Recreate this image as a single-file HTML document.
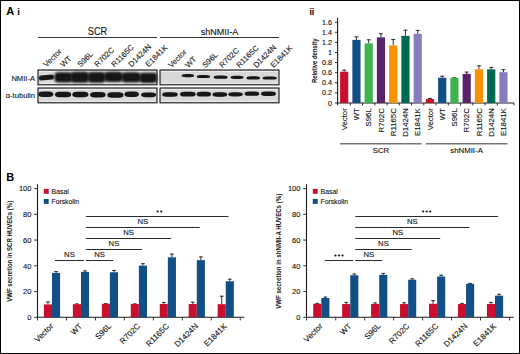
<!DOCTYPE html><html><head><meta charset="utf-8"><style>html,body{margin:0;padding:0;background:#fff;overflow:hidden}svg{display:block}</style></head><body>
<svg width="520" height="354" viewBox="0 0 520 354" font-family='"Liberation Sans", sans-serif'>
<defs><filter id="bl" x="-20%" y="-50%" width="140%" height="200%"><feGaussianBlur stdDeviation="0.9"/></filter><filter id="bl3" x="-20%" y="-80%" width="140%" height="260%"><feGaussianBlur stdDeviation="0.6"/></filter><filter id="bl2" x="-20%" y="-50%" width="140%" height="200%"><feGaussianBlur stdDeviation="0.95"/></filter></defs>
<rect x="0" y="0" width="520" height="354" fill="#fff"/>
<rect x="0.5" y="0.5" width="519" height="353" fill="none" stroke="#000" stroke-width="1"/>
<text x="6.2" y="14.8" font-size="11" text-anchor="start" font-weight="bold" fill="#000">A</text>
<text x="17.2" y="14.8" font-size="9.6" text-anchor="start" font-weight="bold" fill="#000">i</text>
<text x="97.5" y="34.8" font-size="10.3" text-anchor="middle" font-weight="normal" fill="#111" textLength="19.4" lengthAdjust="spacingAndGlyphs" stroke="#111" stroke-width="0.12">SCR</text>
<text x="219.5" y="34.8" font-size="9.0" text-anchor="middle" font-weight="normal" fill="#111" stroke="#111" stroke-width="0.12">shNMII-A</text>
<line x1="38" y1="37.5" x2="157" y2="37.5" stroke="#333" stroke-width="1.2"/>
<line x1="160" y1="37.5" x2="279" y2="37.5" stroke="#333" stroke-width="1.2"/>
<text x="46.5" y="67.6" font-size="7.8" text-anchor="start" font-weight="normal" fill="#1a1a1a" transform="rotate(-45 46.5 67.6)" stroke="#1a1a1a" stroke-width="0.12">Vector</text>
<text x="63.5" y="67.6" font-size="7.8" text-anchor="start" font-weight="normal" fill="#1a1a1a" transform="rotate(-45 63.5 67.6)" stroke="#1a1a1a" stroke-width="0.12">WT</text>
<text x="80.5" y="67.6" font-size="7.8" text-anchor="start" font-weight="normal" fill="#1a1a1a" transform="rotate(-45 80.5 67.6)" stroke="#1a1a1a" stroke-width="0.12">S96L</text>
<text x="97.5" y="67.6" font-size="7.8" text-anchor="start" font-weight="normal" fill="#1a1a1a" transform="rotate(-45 97.5 67.6)" stroke="#1a1a1a" stroke-width="0.12">R702C</text>
<text x="114.5" y="67.6" font-size="7.8" text-anchor="start" font-weight="normal" fill="#1a1a1a" transform="rotate(-45 114.5 67.6)" stroke="#1a1a1a" stroke-width="0.12">R1165C</text>
<text x="131.5" y="67.6" font-size="7.8" text-anchor="start" font-weight="normal" fill="#1a1a1a" transform="rotate(-45 131.5 67.6)" stroke="#1a1a1a" stroke-width="0.12">D1424N</text>
<text x="148.5" y="67.6" font-size="7.8" text-anchor="start" font-weight="normal" fill="#1a1a1a" transform="rotate(-45 148.5 67.6)" stroke="#1a1a1a" stroke-width="0.12">E1841K</text>
<text x="171.4" y="68.3" font-size="7.8" text-anchor="start" font-weight="normal" fill="#1a1a1a" transform="rotate(-45 171.4 68.3)" stroke="#1a1a1a" stroke-width="0.12">Vector</text>
<text x="188.4" y="68.3" font-size="7.8" text-anchor="start" font-weight="normal" fill="#1a1a1a" transform="rotate(-45 188.4 68.3)" stroke="#1a1a1a" stroke-width="0.12">WT</text>
<text x="205.4" y="68.3" font-size="7.8" text-anchor="start" font-weight="normal" fill="#1a1a1a" transform="rotate(-45 205.4 68.3)" stroke="#1a1a1a" stroke-width="0.12">S96L</text>
<text x="222.4" y="68.3" font-size="7.8" text-anchor="start" font-weight="normal" fill="#1a1a1a" transform="rotate(-45 222.4 68.3)" stroke="#1a1a1a" stroke-width="0.12">R702C</text>
<text x="239.4" y="68.3" font-size="7.8" text-anchor="start" font-weight="normal" fill="#1a1a1a" transform="rotate(-45 239.4 68.3)" stroke="#1a1a1a" stroke-width="0.12">R1165C</text>
<text x="256.4" y="68.3" font-size="7.8" text-anchor="start" font-weight="normal" fill="#1a1a1a" transform="rotate(-45 256.4 68.3)" stroke="#1a1a1a" stroke-width="0.12">D1424N</text>
<text x="273.4" y="68.3" font-size="7.8" text-anchor="start" font-weight="normal" fill="#1a1a1a" transform="rotate(-45 273.4 68.3)" stroke="#1a1a1a" stroke-width="0.12">E1841K</text>
<text x="35" y="80.5" font-size="7.6" text-anchor="end" font-weight="normal" fill="#111" stroke="#111" stroke-width="0.12">NMII-A</text>
<text x="35" y="98" font-size="7.6" text-anchor="end" font-weight="normal" fill="#111" stroke="#111" stroke-width="0.12">&#945;-tubulin</text>
<rect x="38" y="70" width="119" height="14.799999999999997" fill="#d8d8d8" stroke="#1e1e1e" stroke-width="1.15"/>
<rect x="39" y="71" width="117" height="1" fill="#eee"/>
<rect x="39" y="82.8" width="117" height="1" fill="#eee"/>
<rect x="38" y="88" width="119" height="14.799999999999997" fill="#d8d8d8" stroke="#1e1e1e" stroke-width="1.15"/>
<rect x="39" y="89" width="117" height="1" fill="#eee"/>
<rect x="39" y="100.8" width="117" height="1" fill="#eee"/>
<rect x="160" y="70" width="119" height="14.799999999999997" fill="#d8d8d8" stroke="#1e1e1e" stroke-width="1.15"/>
<rect x="161" y="71" width="117" height="1" fill="#eee"/>
<rect x="161" y="82.8" width="117" height="1" fill="#eee"/>
<rect x="160" y="88" width="119" height="14.799999999999997" fill="#d8d8d8" stroke="#1e1e1e" stroke-width="1.15"/>
<rect x="161" y="89" width="117" height="1" fill="#eee"/>
<rect x="161" y="100.8" width="117" height="1" fill="#eee"/>
<g transform="rotate(-5 46.5 77.4)">
<rect x="38.9" y="74.95" width="15.000000000000007" height="5.0" rx="3.0" ry="2.0" fill="#141414" filter="url(#bl3)"/>
</g>
<rect x="54.4" y="72.14999999999999" width="17.9" height="10.300000000000011" rx="4.0" ry="4.0" fill="#141414" filter="url(#bl2)"/>
<rect x="70.4" y="71.75" width="18.599999999999994" height="11.0" rx="4.0" ry="4.0" fill="#141414" filter="url(#bl2)"/>
<rect x="87.7" y="71.95" width="17.799999999999997" height="10.799999999999997" rx="4.0" ry="4.0" fill="#141414" filter="url(#bl2)"/>
<rect x="104.2" y="71.75" width="18.599999999999994" height="10.299999999999997" rx="4.0" ry="4.0" fill="#141414" filter="url(#bl2)"/>
<rect x="121.5" y="72.35" width="19.19999999999999" height="10.200000000000003" rx="4.0" ry="4.0" fill="#141414" filter="url(#bl2)"/>
<rect x="139.3" y="72.85" width="17.99999999999997" height="10.200000000000003" rx="4.0" ry="4.0" fill="#141414" filter="url(#bl2)"/>
<rect x="38.3" y="91.60000000000001" width="15.000000000000007" height="5.499999999999986" rx="4.5" ry="2.749999999999993" fill="#141414" filter="url(#bl3)"/>
<rect x="55.0" y="91.7" width="16.200000000000003" height="5.5" rx="4.5" ry="2.75" fill="#141414" filter="url(#bl3)"/>
<rect x="72.3" y="91.7" width="16.10000000000001" height="5.5" rx="4.5" ry="2.75" fill="#141414" filter="url(#bl3)"/>
<rect x="90.1" y="92.0" width="15.500000000000014" height="5.3999999999999915" rx="4.5" ry="2.6999999999999957" fill="#141414" filter="url(#bl3)"/>
<rect x="107.3" y="92.2" width="16.200000000000003" height="5.5" rx="4.5" ry="2.75" fill="#141414" filter="url(#bl3)"/>
<rect x="124.5" y="91.60000000000001" width="14.399999999999977" height="5.299999999999983" rx="4.5" ry="2.6499999999999915" fill="#141414" filter="url(#bl3)"/>
<rect x="141.10000000000002" y="92.4" width="14.999999999999972" height="4.8999999999999915" rx="4.5" ry="2.4499999999999957" fill="#141414" filter="url(#bl3)"/>
<rect x="181.60000000000002" y="73.99999999999999" width="12.499999999999943" height="3.200000000000017" rx="4" ry="1.6000000000000085" fill="#141414" filter="url(#bl3)"/>
<rect x="196.70000000000002" y="74.89999999999999" width="13.399999999999949" height="3.200000000000017" rx="4" ry="1.6000000000000085" fill="#141414" filter="url(#bl3)"/>
<rect x="213.60000000000002" y="75.6" width="13.999999999999943" height="3.200000000000017" rx="4" ry="1.6000000000000085" fill="#141414" filter="url(#bl3)"/>
<rect x="230.50000000000003" y="75.69999999999999" width="13.099999999999937" height="3.200000000000017" rx="4" ry="1.6000000000000085" fill="#141414" filter="url(#bl3)"/>
<rect x="246.50000000000003" y="76.3" width="13.499999999999972" height="3.200000000000017" rx="4" ry="1.6000000000000085" fill="#141414" filter="url(#bl3)"/>
<rect x="262.5" y="76.39999999999999" width="14.399999999999977" height="3.200000000000017" rx="4" ry="1.6000000000000085" fill="#141414" filter="url(#bl3)"/>
<rect x="162.20000000000002" y="92.25" width="15.499999999999972" height="4.5" rx="4.5" ry="2.25" fill="#141414" filter="url(#bl3)"/>
<rect x="180.10000000000002" y="91.85" width="15.499999999999972" height="4.6000000000000085" rx="4.5" ry="2.3000000000000043" fill="#141414" filter="url(#bl3)"/>
<rect x="196.70000000000002" y="91.85" width="14.299999999999983" height="4.700000000000003" rx="4.5" ry="2.3500000000000014" fill="#141414" filter="url(#bl3)"/>
<rect x="212.5" y="92.15" width="14.599999999999994" height="4.5" rx="4.5" ry="2.25" fill="#141414" filter="url(#bl3)"/>
<rect x="228.3" y="92.25" width="14.399999999999977" height="4.200000000000003" rx="4.5" ry="2.1000000000000014" fill="#141414" filter="url(#bl3)"/>
<rect x="244.60000000000002" y="91.45" width="14.699999999999989" height="4.3999999999999915" rx="4.5" ry="2.1999999999999957" fill="#141414" filter="url(#bl3)"/>
<rect x="261.0" y="91.55" width="14.899999999999977" height="4.5" rx="4.5" ry="2.25" fill="#141414" filter="url(#bl3)"/>
<text x="309.4" y="15.3" font-size="8.8" text-anchor="start" font-weight="bold" fill="#000">ii</text>
<line x1="337.6" y1="17.7" x2="337.6" y2="103.5" stroke="#1a1a1a" stroke-width="1.1"/>
<line x1="335" y1="103.0" x2="337.6" y2="103.0" stroke="#1a1a1a" stroke-width="0.9"/>
<text x="332" y="105.5" font-size="7.2" text-anchor="end" font-weight="normal" fill="#111" stroke="#111" stroke-width="0.12">0</text>
<line x1="335" y1="92.9" x2="337.6" y2="92.9" stroke="#1a1a1a" stroke-width="0.9"/>
<text x="332" y="95.4" font-size="7.2" text-anchor="end" font-weight="normal" fill="#111" stroke="#111" stroke-width="0.12">0.2</text>
<line x1="335" y1="82.8" x2="337.6" y2="82.8" stroke="#1a1a1a" stroke-width="0.9"/>
<text x="332" y="85.3" font-size="7.2" text-anchor="end" font-weight="normal" fill="#111" stroke="#111" stroke-width="0.12">0.4</text>
<line x1="335" y1="72.69999999999999" x2="337.6" y2="72.69999999999999" stroke="#1a1a1a" stroke-width="0.9"/>
<text x="332" y="75.19999999999999" font-size="7.2" text-anchor="end" font-weight="normal" fill="#111" stroke="#111" stroke-width="0.12">0.6</text>
<line x1="335" y1="62.599999999999994" x2="337.6" y2="62.599999999999994" stroke="#1a1a1a" stroke-width="0.9"/>
<text x="332" y="65.1" font-size="7.2" text-anchor="end" font-weight="normal" fill="#111" stroke="#111" stroke-width="0.12">0.8</text>
<line x1="335" y1="52.5" x2="337.6" y2="52.5" stroke="#1a1a1a" stroke-width="0.9"/>
<text x="332" y="55.0" font-size="7.2" text-anchor="end" font-weight="normal" fill="#111" stroke="#111" stroke-width="0.12">1</text>
<line x1="335" y1="42.39999999999999" x2="337.6" y2="42.39999999999999" stroke="#1a1a1a" stroke-width="0.9"/>
<text x="332" y="44.89999999999999" font-size="7.2" text-anchor="end" font-weight="normal" fill="#111" stroke="#111" stroke-width="0.12">1.2</text>
<line x1="335" y1="32.3" x2="337.6" y2="32.3" stroke="#1a1a1a" stroke-width="0.9"/>
<text x="332" y="34.8" font-size="7.2" text-anchor="end" font-weight="normal" fill="#111" stroke="#111" stroke-width="0.12">1.4</text>
<line x1="335" y1="22.19999999999999" x2="337.6" y2="22.19999999999999" stroke="#1a1a1a" stroke-width="0.9"/>
<text x="332" y="24.69999999999999" font-size="7.2" text-anchor="end" font-weight="normal" fill="#111" stroke="#111" stroke-width="0.12">1.6</text>
<text x="316.9" y="60.8" font-size="7.2" text-anchor="middle" font-weight="bold" fill="#111" transform="rotate(-90 316.9 60.8)" textLength="44.5" lengthAdjust="spacingAndGlyphs">Relative density</text>
<line x1="337.1" y1="103.0" x2="514" y2="103.0" stroke="#1a1a1a" stroke-width="1.1"/>
<line x1="344.20000000000005" y1="71.69" x2="344.20000000000005" y2="69.7" stroke="#1a1a1a" stroke-width="0.9"/>
<line x1="342.20000000000005" y1="70.10000000000001" x2="346.20000000000005" y2="70.10000000000001" stroke="#1a1a1a" stroke-width="0.9"/>
<rect x="340.1" y="71.69" width="8.2" height="31.310000000000002" fill="#c8102e"/>
<text x="346.80000000000007" y="108.2" font-size="7.8" text-anchor="end" font-weight="normal" fill="#111" transform="rotate(-90 346.80000000000007 108.2)" stroke="#111" stroke-width="0.12">Vector</text>
<line x1="356.45000000000005" y1="39.875" x2="356.45000000000005" y2="36.5" stroke="#1a1a1a" stroke-width="0.9"/>
<line x1="354.45000000000005" y1="36.9" x2="358.45000000000005" y2="36.9" stroke="#1a1a1a" stroke-width="0.9"/>
<rect x="352.35" y="39.875" width="8.2" height="63.125" fill="#134f87"/>
<text x="359.05000000000007" y="108.2" font-size="7.8" text-anchor="end" font-weight="normal" fill="#111" transform="rotate(-90 359.05000000000007 108.2)" stroke="#111" stroke-width="0.12">WT</text>
<line x1="368.70000000000005" y1="43.410000000000004" x2="368.70000000000005" y2="39.4" stroke="#1a1a1a" stroke-width="0.9"/>
<line x1="366.70000000000005" y1="39.8" x2="370.70000000000005" y2="39.8" stroke="#1a1a1a" stroke-width="0.9"/>
<rect x="364.6" y="43.410000000000004" width="8.2" height="59.589999999999996" fill="#3cb44b"/>
<text x="371.30000000000007" y="108.2" font-size="7.8" text-anchor="end" font-weight="normal" fill="#111" transform="rotate(-90 371.30000000000007 108.2)" stroke="#111" stroke-width="0.12">S96L</text>
<line x1="380.95000000000005" y1="37.349999999999994" x2="380.95000000000005" y2="33.4" stroke="#1a1a1a" stroke-width="0.9"/>
<line x1="378.95000000000005" y1="33.8" x2="382.95000000000005" y2="33.8" stroke="#1a1a1a" stroke-width="0.9"/>
<rect x="376.85" y="37.349999999999994" width="8.2" height="65.65" fill="#5a2369"/>
<text x="383.55000000000007" y="108.2" font-size="7.8" text-anchor="end" font-weight="normal" fill="#111" transform="rotate(-90 383.55000000000007 108.2)" stroke="#111" stroke-width="0.12">R702C</text>
<line x1="393.20000000000005" y1="45.43000000000001" x2="393.20000000000005" y2="39" stroke="#1a1a1a" stroke-width="0.9"/>
<line x1="391.20000000000005" y1="39.4" x2="395.20000000000005" y2="39.4" stroke="#1a1a1a" stroke-width="0.9"/>
<rect x="389.1" y="45.43000000000001" width="8.2" height="57.56999999999999" fill="#fa9100"/>
<text x="395.80000000000007" y="108.2" font-size="7.8" text-anchor="end" font-weight="normal" fill="#111" transform="rotate(-90 395.80000000000007 108.2)" stroke="#111" stroke-width="0.12">R1165C</text>
<line x1="405.45000000000005" y1="35.834999999999994" x2="405.45000000000005" y2="29.8" stroke="#1a1a1a" stroke-width="0.9"/>
<line x1="403.45000000000005" y1="30.2" x2="407.45000000000005" y2="30.2" stroke="#1a1a1a" stroke-width="0.9"/>
<rect x="401.35" y="35.834999999999994" width="8.2" height="67.165" fill="#006950"/>
<text x="408.05000000000007" y="108.2" font-size="7.8" text-anchor="end" font-weight="normal" fill="#111" transform="rotate(-90 408.05000000000007 108.2)" stroke="#111" stroke-width="0.12">D1424N</text>
<line x1="417.70000000000005" y1="33.815" x2="417.70000000000005" y2="30" stroke="#1a1a1a" stroke-width="0.9"/>
<line x1="415.70000000000005" y1="30.4" x2="419.70000000000005" y2="30.4" stroke="#1a1a1a" stroke-width="0.9"/>
<rect x="413.6" y="33.815" width="8.2" height="69.185" fill="#877dbe"/>
<text x="420.30000000000007" y="108.2" font-size="7.8" text-anchor="end" font-weight="normal" fill="#111" transform="rotate(-90 420.30000000000007 108.2)" stroke="#111" stroke-width="0.12">E1841K</text>
<line x1="429.95000000000005" y1="98.96" x2="429.95000000000005" y2="98" stroke="#1a1a1a" stroke-width="0.9"/>
<line x1="427.95000000000005" y1="98.4" x2="431.95000000000005" y2="98.4" stroke="#1a1a1a" stroke-width="0.9"/>
<rect x="425.85" y="98.96" width="8.2" height="4.040000000000006" fill="#c8102e"/>
<text x="432.55000000000007" y="108.2" font-size="7.8" text-anchor="end" font-weight="normal" fill="#111" transform="rotate(-90 432.55000000000007 108.2)" stroke="#111" stroke-width="0.12">Vector</text>
<line x1="442.20000000000005" y1="77.75" x2="442.20000000000005" y2="75.8" stroke="#1a1a1a" stroke-width="0.9"/>
<line x1="440.20000000000005" y1="76.2" x2="444.20000000000005" y2="76.2" stroke="#1a1a1a" stroke-width="0.9"/>
<rect x="438.1" y="77.75" width="8.2" height="25.25" fill="#134f87"/>
<text x="444.80000000000007" y="108.2" font-size="7.8" text-anchor="end" font-weight="normal" fill="#111" transform="rotate(-90 444.80000000000007 108.2)" stroke="#111" stroke-width="0.12">WT</text>
<line x1="454.45000000000005" y1="77.75" x2="454.45000000000005" y2="77.3" stroke="#1a1a1a" stroke-width="0.9"/>
<line x1="452.45000000000005" y1="77.7" x2="456.45000000000005" y2="77.7" stroke="#1a1a1a" stroke-width="0.9"/>
<rect x="450.35" y="77.75" width="8.2" height="25.25" fill="#3cb44b"/>
<text x="457.05000000000007" y="108.2" font-size="7.8" text-anchor="end" font-weight="normal" fill="#111" transform="rotate(-90 457.05000000000007 108.2)" stroke="#111" stroke-width="0.12">S96L</text>
<line x1="466.70000000000005" y1="73.912" x2="466.70000000000005" y2="71.7" stroke="#1a1a1a" stroke-width="0.9"/>
<line x1="464.70000000000005" y1="72.10000000000001" x2="468.70000000000005" y2="72.10000000000001" stroke="#1a1a1a" stroke-width="0.9"/>
<rect x="462.6" y="73.912" width="8.2" height="29.087999999999994" fill="#5a2369"/>
<text x="469.30000000000007" y="108.2" font-size="7.8" text-anchor="end" font-weight="normal" fill="#111" transform="rotate(-90 469.30000000000007 108.2)" stroke="#111" stroke-width="0.12">R702C</text>
<line x1="478.95000000000005" y1="69.31649999999999" x2="478.95000000000005" y2="65.5" stroke="#1a1a1a" stroke-width="0.9"/>
<line x1="476.95000000000005" y1="65.9" x2="480.95000000000005" y2="65.9" stroke="#1a1a1a" stroke-width="0.9"/>
<rect x="474.85" y="69.31649999999999" width="8.2" height="33.68350000000001" fill="#fa9100"/>
<text x="481.55000000000007" y="108.2" font-size="7.8" text-anchor="end" font-weight="normal" fill="#111" transform="rotate(-90 481.55000000000007 108.2)" stroke="#111" stroke-width="0.12">R1165C</text>
<line x1="491.20000000000005" y1="69.31649999999999" x2="491.20000000000005" y2="67" stroke="#1a1a1a" stroke-width="0.9"/>
<line x1="489.20000000000005" y1="67.4" x2="493.20000000000005" y2="67.4" stroke="#1a1a1a" stroke-width="0.9"/>
<rect x="487.1" y="69.31649999999999" width="8.2" height="33.68350000000001" fill="#006950"/>
<text x="493.80000000000007" y="108.2" font-size="7.8" text-anchor="end" font-weight="normal" fill="#111" transform="rotate(-90 493.80000000000007 108.2)" stroke="#111" stroke-width="0.12">D1424N</text>
<line x1="503.45000000000005" y1="72.195" x2="503.45000000000005" y2="69.3" stroke="#1a1a1a" stroke-width="0.9"/>
<line x1="501.45000000000005" y1="69.7" x2="505.45000000000005" y2="69.7" stroke="#1a1a1a" stroke-width="0.9"/>
<rect x="499.35" y="72.195" width="8.2" height="30.805000000000007" fill="#877dbe"/>
<text x="506.05000000000007" y="108.2" font-size="7.8" text-anchor="end" font-weight="normal" fill="#111" transform="rotate(-90 506.05000000000007 108.2)" stroke="#111" stroke-width="0.12">E1841K</text>
<line x1="337.6" y1="103.0" x2="337.6" y2="105.5" stroke="#1a1a1a" stroke-width="0.9"/>
<line x1="350.3" y1="103.0" x2="350.3" y2="105.5" stroke="#1a1a1a" stroke-width="0.9"/>
<line x1="362.55" y1="103.0" x2="362.55" y2="105.5" stroke="#1a1a1a" stroke-width="0.9"/>
<line x1="374.8" y1="103.0" x2="374.8" y2="105.5" stroke="#1a1a1a" stroke-width="0.9"/>
<line x1="387.05" y1="103.0" x2="387.05" y2="105.5" stroke="#1a1a1a" stroke-width="0.9"/>
<line x1="399.3" y1="103.0" x2="399.3" y2="105.5" stroke="#1a1a1a" stroke-width="0.9"/>
<line x1="411.55" y1="103.0" x2="411.55" y2="105.5" stroke="#1a1a1a" stroke-width="0.9"/>
<line x1="423.8" y1="103.0" x2="423.8" y2="105.5" stroke="#1a1a1a" stroke-width="0.9"/>
<line x1="436.05" y1="103.0" x2="436.05" y2="105.5" stroke="#1a1a1a" stroke-width="0.9"/>
<line x1="448.3" y1="103.0" x2="448.3" y2="105.5" stroke="#1a1a1a" stroke-width="0.9"/>
<line x1="460.55" y1="103.0" x2="460.55" y2="105.5" stroke="#1a1a1a" stroke-width="0.9"/>
<line x1="472.8" y1="103.0" x2="472.8" y2="105.5" stroke="#1a1a1a" stroke-width="0.9"/>
<line x1="485.05" y1="103.0" x2="485.05" y2="105.5" stroke="#1a1a1a" stroke-width="0.9"/>
<line x1="497.3" y1="103.0" x2="497.3" y2="105.5" stroke="#1a1a1a" stroke-width="0.9"/>
<line x1="514" y1="103.0" x2="514" y2="105.5" stroke="#1a1a1a" stroke-width="0.9"/>
<line x1="340" y1="143.8" x2="421.7" y2="143.8" stroke="#777" stroke-width="1.5"/>
<line x1="425.8" y1="143.8" x2="507.5" y2="143.8" stroke="#777" stroke-width="1.5"/>
<text x="381" y="152.6" font-size="7.8" text-anchor="middle" font-weight="normal" fill="#111" stroke="#111" stroke-width="0.12">SCR</text>
<text x="466.6" y="152.6" font-size="7.8" text-anchor="middle" font-weight="normal" fill="#111" stroke="#111" stroke-width="0.12">shNMII-A</text>
<text x="6.2" y="181.1" font-size="11" text-anchor="start" font-weight="bold" fill="#000">B</text>
<line x1="37.5" y1="184.2" x2="37.5" y2="317.8" stroke="#1a1a1a" stroke-width="1.1"/>
<line x1="34.2" y1="317.3" x2="37.5" y2="317.3" stroke="#1a1a1a" stroke-width="0.9"/>
<text x="31.4" y="320.0" font-size="7.5" text-anchor="end" font-weight="normal" fill="#111" stroke="#111" stroke-width="0.12">0</text>
<line x1="34.2" y1="291.56" x2="37.5" y2="291.56" stroke="#1a1a1a" stroke-width="0.9"/>
<text x="31.4" y="294.26" font-size="7.5" text-anchor="end" font-weight="normal" fill="#111" stroke="#111" stroke-width="0.12">20</text>
<line x1="34.2" y1="265.82" x2="37.5" y2="265.82" stroke="#1a1a1a" stroke-width="0.9"/>
<text x="31.4" y="268.52" font-size="7.5" text-anchor="end" font-weight="normal" fill="#111" stroke="#111" stroke-width="0.12">40</text>
<line x1="34.2" y1="240.08" x2="37.5" y2="240.08" stroke="#1a1a1a" stroke-width="0.9"/>
<text x="31.4" y="242.78" font-size="7.5" text-anchor="end" font-weight="normal" fill="#111" stroke="#111" stroke-width="0.12">60</text>
<line x1="34.2" y1="214.34000000000003" x2="37.5" y2="214.34000000000003" stroke="#1a1a1a" stroke-width="0.9"/>
<text x="31.4" y="217.04000000000002" font-size="7.5" text-anchor="end" font-weight="normal" fill="#111" stroke="#111" stroke-width="0.12">80</text>
<line x1="34.2" y1="188.60000000000002" x2="37.5" y2="188.60000000000002" stroke="#1a1a1a" stroke-width="0.9"/>
<text x="31.4" y="191.3" font-size="7.5" text-anchor="end" font-weight="normal" fill="#111" stroke="#111" stroke-width="0.12">100</text>
<line x1="37.0" y1="317.3" x2="244.4" y2="317.3" stroke="#1a1a1a" stroke-width="1.1"/>
<line x1="37.5" y1="317.3" x2="37.5" y2="320.40000000000003" stroke="#1a1a1a" stroke-width="0.9"/>
<line x1="66.47999999999999" y1="317.3" x2="66.47999999999999" y2="320.40000000000003" stroke="#1a1a1a" stroke-width="0.9"/>
<line x1="95.44" y1="317.3" x2="95.44" y2="320.40000000000003" stroke="#1a1a1a" stroke-width="0.9"/>
<line x1="124.39999999999999" y1="317.3" x2="124.39999999999999" y2="320.40000000000003" stroke="#1a1a1a" stroke-width="0.9"/>
<line x1="153.35999999999999" y1="317.3" x2="153.35999999999999" y2="320.40000000000003" stroke="#1a1a1a" stroke-width="0.9"/>
<line x1="182.32" y1="317.3" x2="182.32" y2="320.40000000000003" stroke="#1a1a1a" stroke-width="0.9"/>
<line x1="211.28" y1="317.3" x2="211.28" y2="320.40000000000003" stroke="#1a1a1a" stroke-width="0.9"/>
<line x1="240.23999999999998" y1="317.3" x2="240.23999999999998" y2="320.40000000000003" stroke="#1a1a1a" stroke-width="0.9"/>
<line x1="47.949999999999996" y1="304.43" x2="47.949999999999996" y2="301.5" stroke="#1a1a1a" stroke-width="0.9"/>
<line x1="46.1" y1="301.9" x2="49.8" y2="301.9" stroke="#1a1a1a" stroke-width="0.9"/>
<rect x="43.9" y="304.43" width="8.1" height="12.870000000000005" fill="#c8102e"/>
<line x1="56.05" y1="272.8985" x2="56.05" y2="271.2" stroke="#1a1a1a" stroke-width="0.9"/>
<line x1="54.2" y1="271.59999999999997" x2="57.9" y2="271.59999999999997" stroke="#1a1a1a" stroke-width="0.9"/>
<rect x="52.0" y="272.8985" width="8.1" height="44.4015" fill="#134f87"/>
<text x="53.8" y="326.7" font-size="8.05" text-anchor="end" font-weight="normal" fill="#111" transform="rotate(-45 53.8 326.7)" stroke="#111" stroke-width="0.12">Vector</text>
<line x1="76.91" y1="304.1726" x2="76.91" y2="303.5" stroke="#1a1a1a" stroke-width="0.9"/>
<line x1="75.06" y1="303.9" x2="78.76" y2="303.9" stroke="#1a1a1a" stroke-width="0.9"/>
<rect x="72.86" y="304.1726" width="8.1" height="13.127400000000023" fill="#c8102e"/>
<line x1="85.00999999999999" y1="271.8689" x2="85.00999999999999" y2="270.5" stroke="#1a1a1a" stroke-width="0.9"/>
<line x1="83.16" y1="270.9" x2="86.86" y2="270.9" stroke="#1a1a1a" stroke-width="0.9"/>
<rect x="80.96" y="271.8689" width="8.1" height="45.431100000000015" fill="#134f87"/>
<text x="82.75999999999999" y="326.7" font-size="8.05" text-anchor="end" font-weight="normal" fill="#111" transform="rotate(-45 82.75999999999999 326.7)" stroke="#111" stroke-width="0.12">WT</text>
<line x1="105.86999999999999" y1="303.7865" x2="105.86999999999999" y2="303.3" stroke="#1a1a1a" stroke-width="0.9"/>
<line x1="104.02" y1="303.7" x2="107.72" y2="303.7" stroke="#1a1a1a" stroke-width="0.9"/>
<rect x="101.82" y="303.7865" width="8.1" height="13.513500000000022" fill="#c8102e"/>
<line x1="113.96999999999998" y1="272.255" x2="113.96999999999998" y2="270" stroke="#1a1a1a" stroke-width="0.9"/>
<line x1="112.11999999999999" y1="270.4" x2="115.82" y2="270.4" stroke="#1a1a1a" stroke-width="0.9"/>
<rect x="109.91999999999999" y="272.255" width="8.1" height="45.045000000000016" fill="#134f87"/>
<text x="111.71999999999998" y="326.7" font-size="8.05" text-anchor="end" font-weight="normal" fill="#111" transform="rotate(-45 111.71999999999998 326.7)" stroke="#111" stroke-width="0.12">S96L</text>
<line x1="134.83" y1="304.0439" x2="134.83" y2="303.5" stroke="#1a1a1a" stroke-width="0.9"/>
<line x1="132.98" y1="303.9" x2="136.68" y2="303.9" stroke="#1a1a1a" stroke-width="0.9"/>
<rect x="130.78" y="304.0439" width="8.1" height="13.256100000000004" fill="#c8102e"/>
<line x1="142.93" y1="265.56260000000003" x2="142.93" y2="263.3" stroke="#1a1a1a" stroke-width="0.9"/>
<line x1="141.07999999999998" y1="263.7" x2="144.78" y2="263.7" stroke="#1a1a1a" stroke-width="0.9"/>
<rect x="138.88" y="265.56260000000003" width="8.1" height="51.73739999999998" fill="#134f87"/>
<text x="140.68" y="326.7" font-size="8.05" text-anchor="end" font-weight="normal" fill="#111" transform="rotate(-45 140.68 326.7)" stroke="#111" stroke-width="0.12">R702C</text>
<line x1="163.79000000000002" y1="303.9152" x2="163.79000000000002" y2="302" stroke="#1a1a1a" stroke-width="0.9"/>
<line x1="161.94" y1="302.4" x2="165.64000000000001" y2="302.4" stroke="#1a1a1a" stroke-width="0.9"/>
<rect x="159.74" y="303.9152" width="8.1" height="13.384799999999984" fill="#c8102e"/>
<line x1="171.89000000000001" y1="257.3258" x2="171.89000000000001" y2="253.7" stroke="#1a1a1a" stroke-width="0.9"/>
<line x1="170.04" y1="254.1" x2="173.74" y2="254.1" stroke="#1a1a1a" stroke-width="0.9"/>
<rect x="167.84" y="257.3258" width="8.1" height="59.974199999999996" fill="#134f87"/>
<text x="169.64000000000001" y="326.7" font-size="8.05" text-anchor="end" font-weight="normal" fill="#111" transform="rotate(-45 169.64000000000001 326.7)" stroke="#111" stroke-width="0.12">R1165C</text>
<line x1="192.75000000000003" y1="304.0439" x2="192.75000000000003" y2="301.8" stroke="#1a1a1a" stroke-width="0.9"/>
<line x1="190.9" y1="302.2" x2="194.60000000000002" y2="302.2" stroke="#1a1a1a" stroke-width="0.9"/>
<rect x="188.70000000000002" y="304.0439" width="8.1" height="13.256100000000004" fill="#c8102e"/>
<line x1="200.85000000000002" y1="260.1572" x2="200.85000000000002" y2="256.5" stroke="#1a1a1a" stroke-width="0.9"/>
<line x1="199.0" y1="256.9" x2="202.70000000000002" y2="256.9" stroke="#1a1a1a" stroke-width="0.9"/>
<rect x="196.8" y="260.1572" width="8.1" height="57.14280000000002" fill="#134f87"/>
<text x="198.60000000000002" y="326.7" font-size="8.05" text-anchor="end" font-weight="normal" fill="#111" transform="rotate(-45 198.60000000000002 326.7)" stroke="#111" stroke-width="0.12">D1424N</text>
<line x1="221.71" y1="304.1726" x2="221.71" y2="295.8" stroke="#1a1a1a" stroke-width="0.9"/>
<line x1="219.85999999999999" y1="296.2" x2="223.56" y2="296.2" stroke="#1a1a1a" stroke-width="0.9"/>
<rect x="217.66" y="304.1726" width="8.1" height="13.127400000000023" fill="#c8102e"/>
<line x1="229.81" y1="281.264" x2="229.81" y2="278.8" stroke="#1a1a1a" stroke-width="0.9"/>
<line x1="227.95999999999998" y1="279.2" x2="231.66" y2="279.2" stroke="#1a1a1a" stroke-width="0.9"/>
<rect x="225.76" y="281.264" width="8.1" height="36.036" fill="#134f87"/>
<text x="227.56" y="326.7" font-size="8.05" text-anchor="end" font-weight="normal" fill="#111" transform="rotate(-45 227.56 326.7)" stroke="#111" stroke-width="0.12">E1841K</text>
<rect x="43.8" y="188.9" width="4.9" height="4.9" fill="#c8102e"/>
<rect x="43.8" y="199" width="4.9" height="4.9" fill="#134f87"/>
<text x="51.6" y="193.9" font-size="7.3" text-anchor="start" font-weight="normal" fill="#111" textLength="17.2" lengthAdjust="spacingAndGlyphs" stroke="#111" stroke-width="0.12">Basal</text>
<text x="51.6" y="204" font-size="7.3" text-anchor="start" font-weight="normal" fill="#111" textLength="27.4" lengthAdjust="spacingAndGlyphs" stroke="#111" stroke-width="0.12">Forskolin</text>
<text x="12.3" y="251.3" font-size="7.9" text-anchor="middle" font-weight="bold" fill="#111" transform="rotate(-90 12.3 251.3)" textLength="101" lengthAdjust="spacingAndGlyphs">VWF secretion in SCR HUVECs (%)</text>
<line x1="55" y1="260.5" x2="83.9" y2="260.5" stroke="#2a2a2a" stroke-width="1.0"/>
<text x="69.45" y="257.0" font-size="7.7" text-anchor="middle" font-weight="normal" fill="#111" stroke="#111" stroke-width="0.12">NS</text>
<line x1="85.9" y1="260.5" x2="113.2" y2="260.5" stroke="#2a2a2a" stroke-width="1.0"/>
<text x="99.55000000000001" y="257.0" font-size="7.7" text-anchor="middle" font-weight="normal" fill="#111" stroke="#111" stroke-width="0.12">NS</text>
<line x1="85.9" y1="249.5" x2="142" y2="249.5" stroke="#2a2a2a" stroke-width="1.0"/>
<text x="113.95" y="246.0" font-size="7.7" text-anchor="middle" font-weight="normal" fill="#111" stroke="#111" stroke-width="0.12">NS</text>
<line x1="85.9" y1="238.5" x2="171.1" y2="238.5" stroke="#2a2a2a" stroke-width="1.0"/>
<text x="128.5" y="235.0" font-size="7.7" text-anchor="middle" font-weight="normal" fill="#111" stroke="#111" stroke-width="0.12">NS</text>
<line x1="85.9" y1="227.5" x2="199.7" y2="227.5" stroke="#2a2a2a" stroke-width="1.0"/>
<text x="142.8" y="224.0" font-size="7.7" text-anchor="middle" font-weight="normal" fill="#111" stroke="#111" stroke-width="0.12">NS</text>
<line x1="85.9" y1="216.5" x2="228.5" y2="216.5" stroke="#2a2a2a" stroke-width="1.0"/>
<circle cx="157.72" cy="211.50" r="1.1" fill="#111"/>
<circle cx="161.28" cy="211.50" r="1.1" fill="#111"/>
<line x1="306.5" y1="184.2" x2="306.5" y2="317.8" stroke="#1a1a1a" stroke-width="1.1"/>
<line x1="303.2" y1="317.3" x2="306.5" y2="317.3" stroke="#1a1a1a" stroke-width="0.9"/>
<text x="300.4" y="320.0" font-size="7.5" text-anchor="end" font-weight="normal" fill="#111" stroke="#111" stroke-width="0.12">0</text>
<line x1="303.2" y1="291.56" x2="306.5" y2="291.56" stroke="#1a1a1a" stroke-width="0.9"/>
<text x="300.4" y="294.26" font-size="7.5" text-anchor="end" font-weight="normal" fill="#111" stroke="#111" stroke-width="0.12">20</text>
<line x1="303.2" y1="265.82" x2="306.5" y2="265.82" stroke="#1a1a1a" stroke-width="0.9"/>
<text x="300.4" y="268.52" font-size="7.5" text-anchor="end" font-weight="normal" fill="#111" stroke="#111" stroke-width="0.12">40</text>
<line x1="303.2" y1="240.08" x2="306.5" y2="240.08" stroke="#1a1a1a" stroke-width="0.9"/>
<text x="300.4" y="242.78" font-size="7.5" text-anchor="end" font-weight="normal" fill="#111" stroke="#111" stroke-width="0.12">60</text>
<line x1="303.2" y1="214.34000000000003" x2="306.5" y2="214.34000000000003" stroke="#1a1a1a" stroke-width="0.9"/>
<text x="300.4" y="217.04000000000002" font-size="7.5" text-anchor="end" font-weight="normal" fill="#111" stroke="#111" stroke-width="0.12">80</text>
<line x1="303.2" y1="188.60000000000002" x2="306.5" y2="188.60000000000002" stroke="#1a1a1a" stroke-width="0.9"/>
<text x="300.4" y="191.3" font-size="7.5" text-anchor="end" font-weight="normal" fill="#111" stroke="#111" stroke-width="0.12">100</text>
<line x1="306.0" y1="317.3" x2="513.7" y2="317.3" stroke="#1a1a1a" stroke-width="1.1"/>
<line x1="306.5" y1="317.3" x2="306.5" y2="320.40000000000003" stroke="#1a1a1a" stroke-width="0.9"/>
<line x1="335.775" y1="317.3" x2="335.775" y2="320.40000000000003" stroke="#1a1a1a" stroke-width="0.9"/>
<line x1="364.72499999999997" y1="317.3" x2="364.72499999999997" y2="320.40000000000003" stroke="#1a1a1a" stroke-width="0.9"/>
<line x1="393.67499999999995" y1="317.3" x2="393.67499999999995" y2="320.40000000000003" stroke="#1a1a1a" stroke-width="0.9"/>
<line x1="422.625" y1="317.3" x2="422.625" y2="320.40000000000003" stroke="#1a1a1a" stroke-width="0.9"/>
<line x1="451.575" y1="317.3" x2="451.575" y2="320.40000000000003" stroke="#1a1a1a" stroke-width="0.9"/>
<line x1="480.525" y1="317.3" x2="480.525" y2="320.40000000000003" stroke="#1a1a1a" stroke-width="0.9"/>
<line x1="509.47499999999997" y1="317.3" x2="509.47499999999997" y2="320.40000000000003" stroke="#1a1a1a" stroke-width="0.9"/>
<line x1="317.25" y1="303.7865" x2="317.25" y2="303" stroke="#1a1a1a" stroke-width="0.9"/>
<line x1="315.4" y1="303.4" x2="319.09999999999997" y2="303.4" stroke="#1a1a1a" stroke-width="0.9"/>
<rect x="313.2" y="303.7865" width="8.1" height="13.513500000000022" fill="#c8102e"/>
<line x1="325.35" y1="297.995" x2="325.35" y2="296.7" stroke="#1a1a1a" stroke-width="0.9"/>
<line x1="323.5" y1="297.09999999999997" x2="327.2" y2="297.09999999999997" stroke="#1a1a1a" stroke-width="0.9"/>
<rect x="321.3" y="297.995" width="8.1" height="19.305000000000007" fill="#134f87"/>
<text x="323.1" y="326.7" font-size="8.05" text-anchor="end" font-weight="normal" fill="#111" transform="rotate(-45 323.1 326.7)" stroke="#111" stroke-width="0.12">Vector</text>
<line x1="346.2" y1="304.0439" x2="346.2" y2="302" stroke="#1a1a1a" stroke-width="0.9"/>
<line x1="344.34999999999997" y1="302.4" x2="348.04999999999995" y2="302.4" stroke="#1a1a1a" stroke-width="0.9"/>
<rect x="342.15" y="304.0439" width="8.1" height="13.256100000000004" fill="#c8102e"/>
<line x1="354.3" y1="275.2151" x2="354.3" y2="273.6" stroke="#1a1a1a" stroke-width="0.9"/>
<line x1="352.45" y1="274.0" x2="356.15" y2="274.0" stroke="#1a1a1a" stroke-width="0.9"/>
<rect x="350.25" y="275.2151" width="8.1" height="42.084900000000005" fill="#134f87"/>
<text x="352.05" y="326.7" font-size="8.05" text-anchor="end" font-weight="normal" fill="#111" transform="rotate(-45 352.05 326.7)" stroke="#111" stroke-width="0.12">WT</text>
<line x1="375.15" y1="303.9152" x2="375.15" y2="302.5" stroke="#1a1a1a" stroke-width="0.9"/>
<line x1="373.29999999999995" y1="302.9" x2="376.99999999999994" y2="302.9" stroke="#1a1a1a" stroke-width="0.9"/>
<rect x="371.09999999999997" y="303.9152" width="8.1" height="13.384799999999984" fill="#c8102e"/>
<line x1="383.25" y1="274.829" x2="383.25" y2="273" stroke="#1a1a1a" stroke-width="0.9"/>
<line x1="381.4" y1="273.4" x2="385.09999999999997" y2="273.4" stroke="#1a1a1a" stroke-width="0.9"/>
<rect x="379.2" y="274.829" width="8.1" height="42.471000000000004" fill="#134f87"/>
<text x="381.0" y="326.7" font-size="8.05" text-anchor="end" font-weight="normal" fill="#111" transform="rotate(-45 381.0 326.7)" stroke="#111" stroke-width="0.12">S96L</text>
<line x1="404.09999999999997" y1="304.0439" x2="404.09999999999997" y2="302.4" stroke="#1a1a1a" stroke-width="0.9"/>
<line x1="402.24999999999994" y1="302.79999999999995" x2="405.94999999999993" y2="302.79999999999995" stroke="#1a1a1a" stroke-width="0.9"/>
<rect x="400.04999999999995" y="304.0439" width="8.1" height="13.256100000000004" fill="#c8102e"/>
<line x1="412.2" y1="279.7196" x2="412.2" y2="278.4" stroke="#1a1a1a" stroke-width="0.9"/>
<line x1="410.34999999999997" y1="278.79999999999995" x2="414.04999999999995" y2="278.79999999999995" stroke="#1a1a1a" stroke-width="0.9"/>
<rect x="408.15" y="279.7196" width="8.1" height="37.5804" fill="#134f87"/>
<text x="409.95" y="326.7" font-size="8.05" text-anchor="end" font-weight="normal" fill="#111" transform="rotate(-45 409.95 326.7)" stroke="#111" stroke-width="0.12">R702C</text>
<line x1="433.05" y1="303.7865" x2="433.05" y2="300.2" stroke="#1a1a1a" stroke-width="0.9"/>
<line x1="431.2" y1="300.59999999999997" x2="434.9" y2="300.59999999999997" stroke="#1a1a1a" stroke-width="0.9"/>
<rect x="429.0" y="303.7865" width="8.1" height="13.513500000000022" fill="#c8102e"/>
<line x1="441.15000000000003" y1="276.50210000000004" x2="441.15000000000003" y2="274.8" stroke="#1a1a1a" stroke-width="0.9"/>
<line x1="439.3" y1="275.2" x2="443.0" y2="275.2" stroke="#1a1a1a" stroke-width="0.9"/>
<rect x="437.1" y="276.50210000000004" width="8.1" height="40.79789999999997" fill="#134f87"/>
<text x="438.90000000000003" y="326.7" font-size="8.05" text-anchor="end" font-weight="normal" fill="#111" transform="rotate(-45 438.90000000000003 326.7)" stroke="#111" stroke-width="0.12">R1165C</text>
<line x1="462.0" y1="304.0439" x2="462.0" y2="303" stroke="#1a1a1a" stroke-width="0.9"/>
<line x1="460.15" y1="303.4" x2="463.84999999999997" y2="303.4" stroke="#1a1a1a" stroke-width="0.9"/>
<rect x="457.95" y="304.0439" width="8.1" height="13.256100000000004" fill="#c8102e"/>
<line x1="470.1" y1="283.838" x2="470.1" y2="283" stroke="#1a1a1a" stroke-width="0.9"/>
<line x1="468.25" y1="283.4" x2="471.95" y2="283.4" stroke="#1a1a1a" stroke-width="0.9"/>
<rect x="466.05" y="283.838" width="8.1" height="33.46199999999999" fill="#134f87"/>
<text x="467.85" y="326.7" font-size="8.05" text-anchor="end" font-weight="normal" fill="#111" transform="rotate(-45 467.85 326.7)" stroke="#111" stroke-width="0.12">D1424N</text>
<line x1="490.95" y1="303.9152" x2="490.95" y2="302" stroke="#1a1a1a" stroke-width="0.9"/>
<line x1="489.09999999999997" y1="302.4" x2="492.79999999999995" y2="302.4" stroke="#1a1a1a" stroke-width="0.9"/>
<rect x="486.9" y="303.9152" width="8.1" height="13.384799999999984" fill="#c8102e"/>
<line x1="499.05" y1="295.6784" x2="499.05" y2="293.9" stroke="#1a1a1a" stroke-width="0.9"/>
<line x1="497.2" y1="294.29999999999995" x2="500.9" y2="294.29999999999995" stroke="#1a1a1a" stroke-width="0.9"/>
<rect x="495.0" y="295.6784" width="8.1" height="21.6216" fill="#134f87"/>
<text x="496.8" y="326.7" font-size="8.05" text-anchor="end" font-weight="normal" fill="#111" transform="rotate(-45 496.8 326.7)" stroke="#111" stroke-width="0.12">E1841K</text>
<rect x="312.8" y="188.9" width="4.9" height="4.9" fill="#c8102e"/>
<rect x="312.8" y="199" width="4.9" height="4.9" fill="#134f87"/>
<text x="320.6" y="193.9" font-size="7.3" text-anchor="start" font-weight="normal" fill="#111" textLength="17.2" lengthAdjust="spacingAndGlyphs" stroke="#111" stroke-width="0.12">Basal</text>
<text x="320.6" y="204" font-size="7.3" text-anchor="start" font-weight="normal" fill="#111" textLength="27.4" lengthAdjust="spacingAndGlyphs" stroke="#111" stroke-width="0.12">Forskolin</text>
<text x="281.4" y="251.3" font-size="7.9" text-anchor="middle" font-weight="bold" fill="#111" transform="rotate(-90 281.4 251.3)" textLength="115" lengthAdjust="spacingAndGlyphs">VWF secretion in shNMII-A HUVECs (%)</text>
<line x1="324.7" y1="260.5" x2="353.3" y2="260.5" stroke="#2a2a2a" stroke-width="1.0"/>
<circle cx="335.45" cy="255.50" r="1.1" fill="#111"/>
<circle cx="339.00" cy="255.50" r="1.1" fill="#111"/>
<circle cx="342.55" cy="255.50" r="1.1" fill="#111"/>
<line x1="355.3" y1="260.5" x2="382.4" y2="260.5" stroke="#2a2a2a" stroke-width="1.0"/>
<text x="368.85" y="257.0" font-size="7.7" text-anchor="middle" font-weight="normal" fill="#111" stroke="#111" stroke-width="0.12">NS</text>
<line x1="355.3" y1="249.5" x2="411.6" y2="249.5" stroke="#2a2a2a" stroke-width="1.0"/>
<text x="383.45000000000005" y="246.0" font-size="7.7" text-anchor="middle" font-weight="normal" fill="#111" stroke="#111" stroke-width="0.12">NS</text>
<line x1="355.3" y1="238.5" x2="440.2" y2="238.5" stroke="#2a2a2a" stroke-width="1.0"/>
<text x="397.75" y="235.0" font-size="7.7" text-anchor="middle" font-weight="normal" fill="#111" stroke="#111" stroke-width="0.12">NS</text>
<line x1="355.3" y1="227.5" x2="469.2" y2="227.5" stroke="#2a2a2a" stroke-width="1.0"/>
<text x="412.25" y="224.0" font-size="7.7" text-anchor="middle" font-weight="normal" fill="#111" stroke="#111" stroke-width="0.12">NS</text>
<line x1="355.3" y1="216.5" x2="498.1" y2="216.5" stroke="#2a2a2a" stroke-width="1.0"/>
<circle cx="423.15" cy="211.50" r="1.1" fill="#111"/>
<circle cx="426.70" cy="211.50" r="1.1" fill="#111"/>
<circle cx="430.25" cy="211.50" r="1.1" fill="#111"/>
</svg></body></html>
